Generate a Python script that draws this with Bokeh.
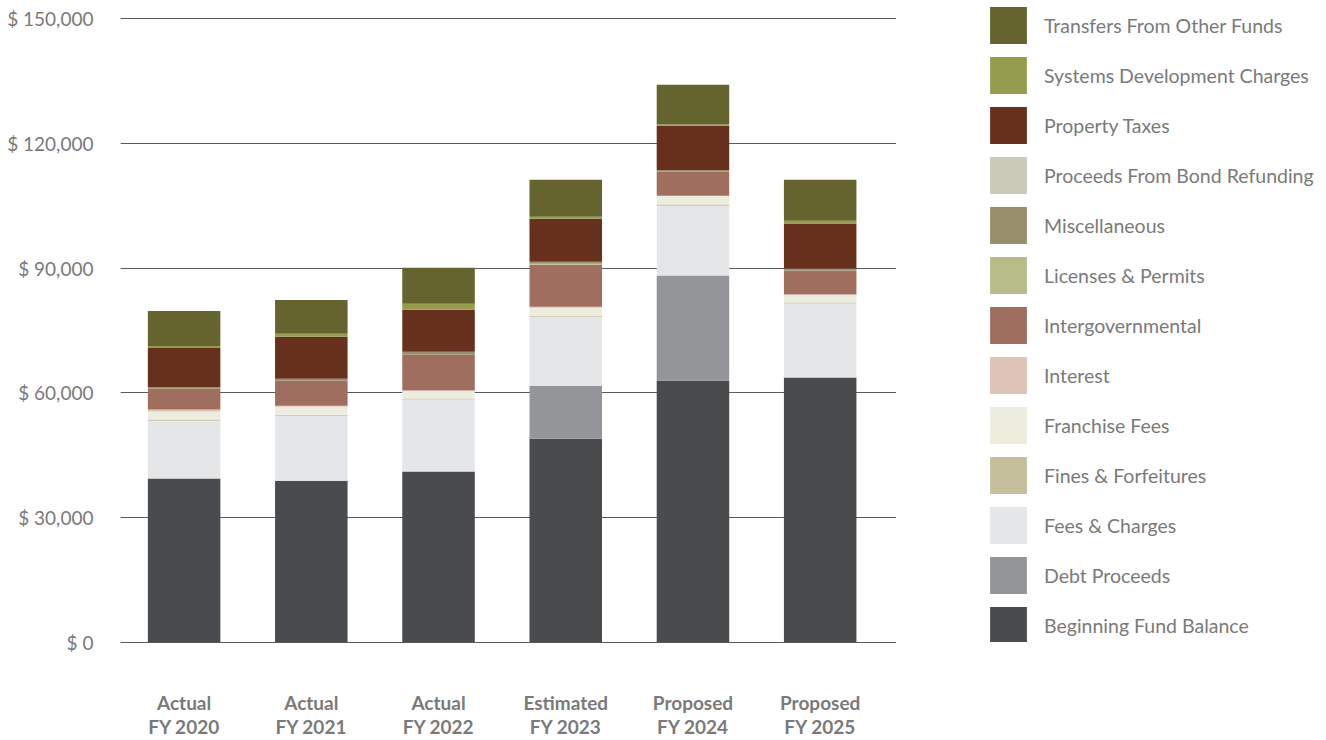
from bokeh.plotting import figure
from bokeh.layouts import row
from bokeh.models import Range1d, FixedTicker, Legend, LegendItem, ColumnDataSource
from bokeh.embed import file_html
from bokeh.resources import INLINE

# Fiscal years shown on the x axis
years = ["Actual\nFY 2020", "Actual\nFY 2021", "Actual\nFY 2022",
         "Estimated\nFY 2023", "Proposed\nFY 2024", "Proposed\nFY 2025"]

# Revenue sources, in dollars (stacked bottom to top)
beginning_fund_balance = [39400, 38900, 41100, 49000, 63000, 63700]
debt_proceeds = [0, 0, 0, 12700, 25200, 0]
fees_charges = [13900, 15600, 17300, 16600, 16800, 17800]
fines_forfeitures = [300, 250, 250, 250, 300, 250]
franchise_fees = [1900, 1900, 1900, 1900, 2100, 1900]
interest = [500, 250, 0, 250, 0, 0]
intergovernmental = [5000, 6000, 8650, 10100, 5850, 5750]
licenses_permits = [0, 0, 0, 250, 0, 0]
miscellaneous = [400, 500, 700, 500, 350, 500]
bond_refunding = [0, 0, 0, 0, 0, 0]
property_taxes = [9400, 10100, 10100, 10300, 10650, 10800]
systems_development = [500, 700, 1450, 500, 250, 700]
transfers = [8400, 8150, 8650, 8900, 9600, 9850]

y_ticks = [0, 30000, 60000, 90000, 120000, 150000]

series = [
    ("Beginning Fund Balance", beginning_fund_balance, "#4a4b4d"),
    ("Debt Proceeds", debt_proceeds, "#939598"),
    ("Fees & Charges", fees_charges, "#e5e6e8"),
    ("Fines & Forfeitures", fines_forfeitures, "#c6bf9b"),
    ("Franchise Fees", franchise_fees, "#ecedde"),
    ("Interest", interest, "#dfc3b6"),
    ("Intergovernmental", intergovernmental, "#9f6e5f"),
    ("Licenses & Permits", licenses_permits, "#b8bc89"),
    ("Miscellaneous", miscellaneous, "#998f6c"),
    ("Proceeds From Bond Refunding", bond_refunding, "#cbc9b7"),
    ("Property Taxes", property_taxes, "#67301d"),
    ("Systems Development Charges", systems_development, "#969c4e"),
    ("Transfers From Other Funds", transfers, "#65642f"),
]

data = {"x": list(range(len(years)))}
for name, vals, _ in series:
    data[name] = vals
source = ColumnDataSource(data)

FONT = "Lato"
TEXT_GREY = "#7a7a7a"
GRID = "#5a5a5a"

# ---- main chart -----------------------------------------------------------
# frame runs to the top edge; a little headroom keeps the $150,000 line inside
p = figure(frame_width=776, frame_height=642, output_backend="svg",
           toolbar_location=None,
           x_range=Range1d(-0.5, 5.6), y_range=Range1d(0, 154330),
           min_border_left=120, min_border_right=0, min_border_top=0,
           min_border_bottom=98)
p.outline_line_color = None
p.background_fill_color = "white"
p.border_fill_color = "white"

p.vbar_stack([s[0] for s in series], x="x", width=0.57,
             color=[s[2] for s in series], line_width=0,
             line_color=None, source=source)

# y axis: currency labels, no axis line or ticks
p.yaxis.ticker = FixedTicker(ticks=y_ticks)
p.yaxis.major_label_overrides = {v: f"$ {v:,}" for v in y_ticks}
p.yaxis.axis_line_color = None
p.yaxis.major_tick_line_color = None
p.yaxis.minor_tick_line_color = None
p.yaxis.major_tick_out = 0
p.yaxis.major_tick_in = 0
p.yaxis.major_label_standoff = 27
p.yaxis.major_label_text_font = FONT
p.yaxis.major_label_text_font_size = "19px"
p.yaxis.major_label_text_color = TEXT_GREY

# x axis: two-line bold year labels
p.xaxis.ticker = FixedTicker(ticks=list(range(len(years))))
p.xaxis.major_label_overrides = {i: y for i, y in enumerate(years)}
p.xaxis.axis_line_color = GRID
p.xaxis.axis_line_width = 1
p.xaxis.major_tick_line_color = None
p.xaxis.minor_tick_line_color = None
p.xaxis.major_tick_out = 0
p.xaxis.major_tick_in = 0
p.xaxis.major_label_standoff = 48
p.xaxis.major_label_text_font = FONT
p.xaxis.major_label_text_font_style = "bold"
p.xaxis.major_label_text_font_size = "19px"
p.xaxis.major_label_text_color = TEXT_GREY
p.xaxis.major_label_text_line_height = 1.05

p.xgrid.grid_line_color = None
p.ygrid.ticker = FixedTicker(ticks=y_ticks)
p.ygrid.grid_line_color = GRID
p.ygrid.grid_line_width = 1
p.ygrid.level = "underlay"

# ---- legend panel ---------------------------------------------------------
lg = figure(width=430, height=740, output_backend="svg", toolbar_location=None,
            x_range=Range1d(0, 1), y_range=Range1d(0, 1),
            min_border=0, min_border_left=0, min_border_right=0,
            min_border_top=0, min_border_bottom=0)
lg.axis.visible = False
lg.grid.visible = False
lg.outline_line_color = None

# zero-area swatch holders, one per revenue source, used only by the legend
swatch = ColumnDataSource({"x": [0], "y": [0]})
items = []
for name, _, color in series[::-1]:
    r = lg.vbar(x="x", top="y", bottom="y", width=0, fill_color=color,
                line_color=None, source=swatch)
    items.append(LegendItem(label=name, renderers=[r]))

legend = Legend(items=items, location=(89, -6), padding=0, margin=0,
                border_line_color=None, background_fill_alpha=0,
                glyph_width=46, glyph_height=46, spacing=4,
                label_standoff=13, label_text_font=FONT,
                label_text_font_size="19.5px", label_text_color=TEXT_GREY)
lg.add_layout(legend, "center")

layout = row(p, lg, spacing=0)
open("out.html", "w").write(file_html(layout, INLINE))
